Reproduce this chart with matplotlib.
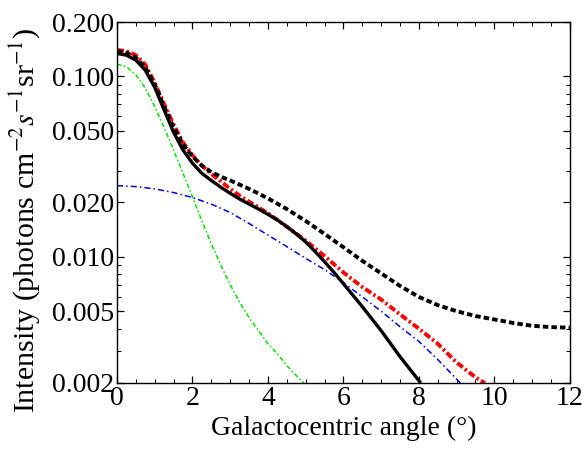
import matplotlib
matplotlib.use("Agg")
import matplotlib.pyplot as plt
from matplotlib.ticker import FixedLocator, FixedFormatter, LogLocator, MultipleLocator, NullFormatter

plt.rcParams["font.family"] = ["Liberation Serif", "DejaVu Serif"]
plt.rcParams["mathtext.fontset"] = "stix"

# total model (solid black)
total_x = [0, 0.25, 0.5, 0.75, 1.0, 1.25, 1.5, 1.75, 2.0, 2.25, 2.5, 2.75, 3.0, 3.25, 3.5,
           3.75, 4.0, 4.25, 4.5, 4.75, 5.0, 5.25, 5.5, 5.75, 6.0, 6.5, 7.0, 7.5, 8.05]
total_y = [0.134, 0.131, 0.123, 0.108, 0.087, 0.065, 0.049, 0.039, 0.033, 0.029, 0.0265,
           0.0243, 0.0225, 0.0209, 0.0196, 0.0184, 0.0172, 0.016, 0.0147, 0.0134, 0.0121,
           0.0107, 0.0094, 0.0082, 0.0071, 0.0053, 0.0039, 0.0028, 0.0020]

# data (dashed black)
data_x = [0, 0.25, 0.5, 0.75, 1.0, 1.25, 1.5, 1.75, 2.0, 2.25, 2.5, 2.75, 3.0, 3.5, 4.0,
          4.5, 5.0, 5.5, 6.0, 6.5, 7.0, 7.5, 8.0, 8.5, 9.0, 9.5, 10.0, 10.5, 11.0, 11.5, 12.0]
data_y = [0.138, 0.135, 0.127, 0.112, 0.090, 0.068, 0.052, 0.042, 0.036, 0.032, 0.0295,
          0.0278, 0.0265, 0.0238, 0.0211, 0.0184, 0.0158, 0.0134, 0.0113, 0.0095, 0.0081,
          0.0069, 0.0060, 0.0054, 0.0050, 0.0047, 0.0045, 0.0043, 0.00415, 0.00408, 0.00405]

# red dash-dot
red_x = [0, 0.25, 0.5, 0.75, 1.0, 1.25, 1.5, 1.75, 2.0, 2.25, 2.5, 2.75, 3.0, 3.25, 3.5,
         3.75, 4.0, 4.5, 5.0, 5.5, 6.0, 6.5, 7.0, 7.5, 8.0, 8.5, 9.0, 9.5, 9.75]
red_y = [0.140, 0.138, 0.131, 0.116, 0.092, 0.070, 0.054, 0.043, 0.0365, 0.032, 0.0288,
         0.0262, 0.0238, 0.0218, 0.0202, 0.0188, 0.0174, 0.0147, 0.0123, 0.0101, 0.0082,
         0.0068, 0.0058, 0.0048, 0.0040, 0.0033, 0.0026, 0.00215, 0.0020]

# blue dash-dot
blue_x = [0, 0.5, 1.0, 1.5, 2.0, 2.5, 3.0, 3.5, 4.0, 4.5, 5.0, 5.5, 6.0, 6.5, 7.0, 7.5,
          8.0, 8.5, 9.1]
blue_y = [0.0248, 0.0245, 0.0238, 0.0227, 0.0213, 0.0196, 0.0176, 0.0153, 0.0132, 0.0114,
          0.0098, 0.0085, 0.0072, 0.0060, 0.0050, 0.0041, 0.0034, 0.0027, 0.0020]

# green dash-dot
green_x = [0, 0.25, 0.5, 0.75, 1.0, 1.25, 1.5, 1.75, 2.0, 2.25, 2.5, 2.75, 3.0, 3.25, 3.5,
           3.75, 4.0, 4.25, 4.5, 4.75, 4.95]
green_y = [0.117, 0.113, 0.102, 0.086, 0.068, 0.052, 0.039, 0.029, 0.0215, 0.0158, 0.0118,
           0.0090, 0.0070, 0.0056, 0.0046, 0.0039, 0.0033, 0.0029, 0.0025, 0.0022, 0.0020]

y_ticks = [0.002, 0.005, 0.010, 0.020, 0.050, 0.100, 0.200]
y_tick_labels = ["0.002", "0.005", "0.010", "0.020", "0.050", "0.100", "0.200"]
x_ticks = [0, 2, 4, 6, 8, 10, 12]

fig = plt.figure(figsize=(5.85, 4.49), dpi=100)
ax = fig.add_axes([0.2, 0.147, 0.774, 0.804])

ax.plot(green_x, green_y, color="#00e000", lw=1.1, dashes=(3, 1.6, 1, 1.6))
ax.plot(blue_x, blue_y, color="#0000e0", lw=1.1, dashes=(4, 2, 1, 2))
ax.plot(red_x, red_y, color="#ff0000", lw=2.8, dashes=(1.8, 0.7, 0.6, 0.7))
ax.plot(data_x, data_y, color="black", lw=2.8, dashes=(1.4, 0.8))
ax.plot(total_x, total_y, color="black", lw=2.4, solid_capstyle="butt")

ax.set_yscale("log")
ax.set_xlim(0, 12)
ax.set_ylim(0.002, 0.2)

ax.yaxis.set_major_locator(FixedLocator(y_ticks))
ax.yaxis.set_major_formatter(FixedFormatter(y_tick_labels))
ax.yaxis.set_minor_locator(LogLocator(base=10, subs=range(1, 10)))
ax.yaxis.set_minor_formatter(NullFormatter())
ax.xaxis.set_major_locator(FixedLocator(x_ticks))
ax.xaxis.set_minor_locator(MultipleLocator(0.5))

ax.tick_params(which="both", direction="in", top=True, right=True, labelsize=20, pad=2)
ax.tick_params(which="major", length=5, width=0.9)
ax.tick_params(which="minor", length=3, width=0.7)
for s in ax.spines.values():
    s.set_linewidth(1.0)

ax.set_xlabel("Galactocentric angle (°)", fontsize=20, labelpad=4)
ax.set_ylabel(r"Intensity (photons cm$^{-2}$$s^{-1}$sr$^{-1}$)", fontsize=21.5)
ax.yaxis.set_label_coords(-0.166, 0.45)

fig.savefig("out.png", dpi=100)
